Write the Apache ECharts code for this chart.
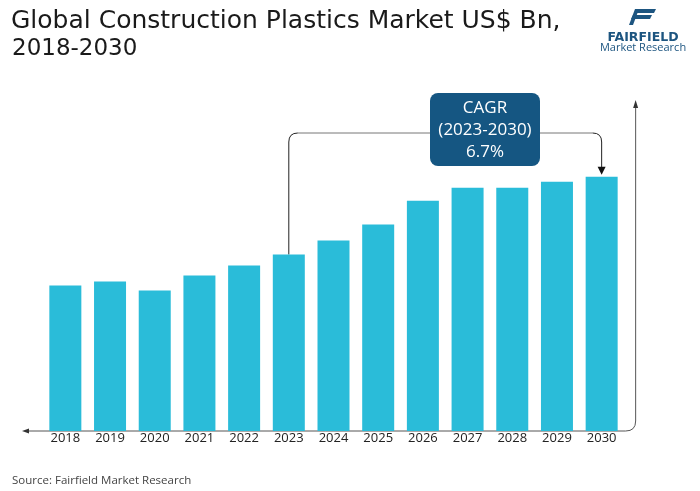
<!DOCTYPE html>
<html><head><meta charset="utf-8">
<script src="https://cdn.jsdelivr.net/npm/echarts@6/dist/echarts.min.js"></script>
<style>html,body{margin:0;padding:0;background:#fff}#c{width:700px;height:491px}</style>
</head><body><div id="c"></div>
<script>
const years = ['2018','2019','2020','2021','2022','2023','2024','2025','2026','2027','2028','2029','2030'];
const values = [73, 75, 70.5, 78, 83, 88.5, 95.5, 103.5, 115.5, 122, 122, 125, 127.5];
const titleLines = ['Global Construction Plastics Market US$ Bn,', '2018-2030'];
const cagrText = ['CAGR', '(2023-2030)', '6.7%'];
const cagrFrom = '2023', cagrTo = '2030';

const FONT = "'Open Sans', 'Noto Sans', sans-serif";
const chart = echarts.init(document.getElementById('c'), null, {renderer:'canvas'});
const option = {
  animation: false,
  grid: {left: 43, right: 76, top: 100, bottom: 60},
  xAxis: {
    type: 'category', data: years,
    axisLine: {show: false}, axisTick: {show: false},
    axisLabel: {color: '#222', fontSize: 13, fontFamily: FONT, margin: 1, interval: 0}
  },
  yAxis: {type: 'value', min: 0, max: 166, show: false, splitLine: {show: false}},
  series: [{
    type: 'bar', data: values, barWidth: 32,
    itemStyle: {color: '#2abcd9'}
  }]
};
chart.setOption(option);

const i0 = years.indexOf(cagrFrom), i1 = years.indexOf(cagrTo);
const p0 = chart.convertToPixel({seriesIndex:0}, [i0, values[i0]]);
const p1 = chart.convertToPixel({seriesIndex:0}, [i1, values[i1]]);
const base = chart.convertToPixel({seriesIndex:0}, [0, 0])[1];
const axX = chart.convertToPixel({xAxisIndex:0}, i1) + 34;
const lineY = 133, r = 9;
const boxL = 430, boxR = 540, boxT = 93, boxB = 166;
const lineStyle = {stroke:'#222', fill:null, lineWidth:1};

option.graphic = [
  // Title
  {type:'text', x: 11, y: 9, style:{text: titleLines[0], fill:'#1a1a1a', font:"25px 'DejaVu Sans', sans-serif"}},
  {type:'text', x: 12, y: 38, style:{text: titleLines[1], fill:'#1a1a1a', font:"23px 'DejaVu Sans', sans-serif"}},
  // Source
  {type:'text', x: 12, y: 475, style:{text:'Source: Fairfield Market Research', fill:'#444', font:'11.5px ' + FONT}},
  // Logo
  {type:'polygon', shape:{points:[[637,9],[656,9],[654,13],[635,13]]}, style:{fill:'#1d5580'}},
  {type:'polygon', shape:{points:[[633,15],[652,15],[650,19],[631,19]]}, style:{fill:'#1d5580'}},
  {type:'polygon', shape:{points:[[635,9],[639,9],[633,25],[629,25]]}, style:{fill:'#1d5580'}},
  {type:'text', x: 643, y: 38, style:{text:'FAIRFIELD', fill:'#1d5580', font:"bold 12.5px 'DejaVu Sans', sans-serif", align:'center', verticalAlign:'middle'}},
  {type:'text', x: 643, y: 47.5, style:{text:'Market Research', fill:'#1d5580', font:'11px ' + FONT, align:'center', verticalAlign:'middle'}},
  // bottom axis with left arrow, curving into vertical arrow
  {type:'line', shape:{x1: 26, y1: base, x2: axX - 10, y2: base}, style:{stroke:'#555', lineWidth:1}},
  {type:'polygon', shape:{points:[[22, base],[29, base-2.5],[29, base+2.5]]}, style:{fill:'#333'}},
  {type:'bezierCurve', shape:{x1: axX - 10, y1: base, cpx1: axX, cpy1: base, x2: axX, y2: base - 10}, style:{stroke:'#555', fill:null, lineWidth:1}},
  {type:'line', shape:{x1: axX, y1: base - 10, x2: axX, y2: 106}, style:{stroke:'#555', lineWidth:1}},
  {type:'polygon', shape:{points:[[axX, 100],[axX-2.5, 108],[axX+2.5, 108]]}, style:{fill:'#333'}},
  // CAGR bracket left
  {type:'line', shape:{x1: p0[0], y1: p0[1], x2: p0[0], y2: lineY + r}, style:lineStyle},
  {type:'bezierCurve', shape:{x1: p0[0], y1: lineY + r, cpx1: p0[0], cpy1: lineY, x2: p0[0] + r, y2: lineY}, style:lineStyle},
  {type:'line', shape:{x1: p0[0] + r, y1: lineY, x2: boxL, y2: lineY}, style:{stroke:'#777', lineWidth:1}},
  // right
  {type:'line', shape:{x1: boxR, y1: lineY, x2: p1[0] - r, y2: lineY}, style:{stroke:'#777', lineWidth:1}},
  {type:'bezierCurve', shape:{x1: p1[0] - r, y1: lineY, cpx1: p1[0], cpy1: lineY, x2: p1[0], y2: lineY + r}, style:lineStyle},
  {type:'line', shape:{x1: p1[0], y1: lineY + r, x2: p1[0], y2: p1[1] - 8}, style:lineStyle},
  {type:'polygon', shape:{points:[[p1[0], p1[1]-2],[p1[0]-4, p1[1]-10],[p1[0]+4, p1[1]-10]]}, style:{fill:'#111'}},
  // box
  {type:'rect', shape:{x: boxL, y: boxT, width: boxR-boxL, height: boxB-boxT, r: 8}, style:{fill:'#155682'}},
  {type:'text', x: (boxL+boxR)/2, y: (boxT+boxB)/2 + 1, style:{text: cagrText.join('\n'), fill:'#fff', font:'17px ' + FONT, lineHeight: 22, align:'center', verticalAlign:'middle'}}
];
chart.setOption(option);
</script></body></html>
